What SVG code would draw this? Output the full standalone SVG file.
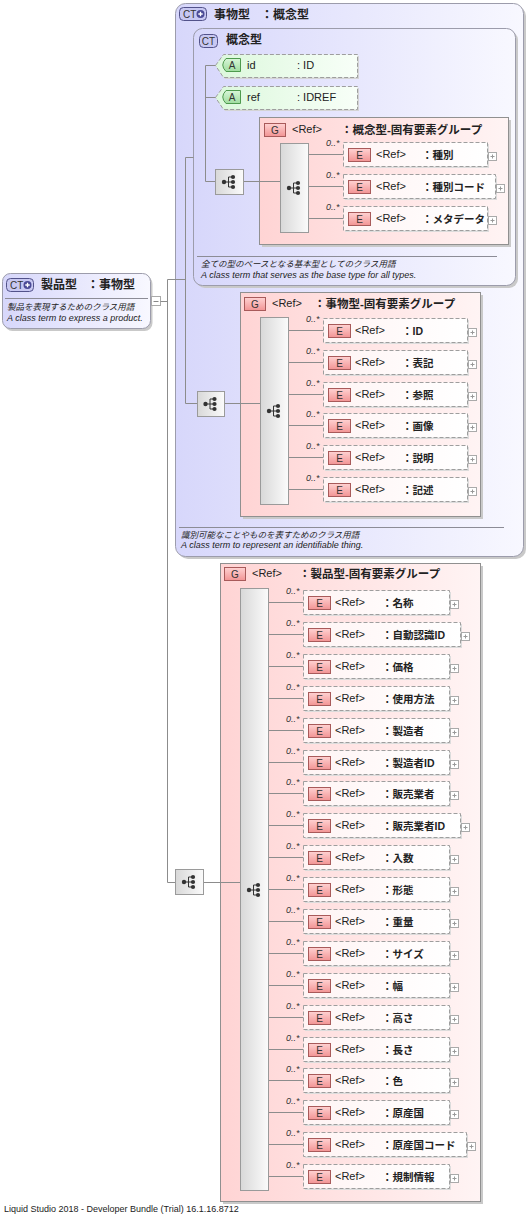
<svg xmlns="http://www.w3.org/2000/svg" xmlns:xlink="http://www.w3.org/1999/xlink" width="528" height="1216" viewBox="0 0 528 1216">
<defs>
<style>
.t{font-family:"Liberation Sans","Noto Sans CJK JP",sans-serif}
.ttl{font-size:12px;font-weight:bold;fill:#222}
.hd{font-size:11.5px;font-weight:bold;fill:#222}
.ref{font-size:11px;fill:#222}
.nm{font-size:10.5px;font-weight:bold;fill:#222}
.occ{font-size:9px;font-style:italic;fill:#333}
.dsc{font-size:9px;font-style:italic;fill:#222}
.dj{font-size:8.5px}
.ln{stroke:#8c8c8c;stroke-width:1;fill:none}
.sep{stroke:#8c8c96;stroke-width:1}
.ctbox{fill:url(#gCT);stroke:#9c9cab;stroke-width:1}
.shd{fill:#c9c9c9}
.grp{fill:url(#gGrp);stroke:#909090;stroke-width:1}
.bar{fill:url(#gBar);stroke:#9a9a9a;stroke-width:1}
.ebox{fill:url(#gEl);stroke:#9e9e9e;stroke-width:1;stroke-dasharray:4 2}
.esh{fill:#dcdcdc}
.eb{fill:url(#gEB);stroke:#a85a5a;stroke-width:1}
.bt{font-size:10px;fill:#333;text-anchor:middle}
.ctb{fill:#c8c8f2;stroke:#52528a;stroke-width:1}
.abox{fill:url(#gAt);stroke:#9e9e9e;stroke-width:1;stroke-dasharray:4 2}
.ab{fill:url(#gAB);stroke:#4e9a4e;stroke-width:1}
.at{font-size:11px;fill:#222}
</style>
<linearGradient id="gCT" x1="0" y1="0" x2="1" y2="0"><stop offset="0" stop-color="#d7d7fb"/><stop offset="1" stop-color="#f8f8ff"/></linearGradient>
<linearGradient id="gGrp" x1="0" y1="0" x2="1" y2="0"><stop offset="0" stop-color="#ffd4d4"/><stop offset="1" stop-color="#fff4f4"/></linearGradient>
<linearGradient id="gBar" x1="0" y1="0" x2="1" y2="0"><stop offset="0" stop-color="#d8d8d8"/><stop offset="1" stop-color="#fbfbfb"/></linearGradient>
<linearGradient id="gEl" x1="0" y1="0" x2="1" y2="0"><stop offset="0" stop-color="#fff4f4"/><stop offset="1" stop-color="#ffffff"/></linearGradient>
<linearGradient id="gAt" x1="0" y1="0" x2="1" y2="0"><stop offset="0" stop-color="#dcf8dc"/><stop offset="1" stop-color="#f8fff8"/></linearGradient>
<linearGradient id="gEB" x1="0" y1="0" x2="0" y2="1"><stop offset="0" stop-color="#ffd2d2"/><stop offset="1" stop-color="#f29494"/></linearGradient>
<linearGradient id="gAB" x1="0" y1="0" x2="0" y2="1"><stop offset="0" stop-color="#d8f6d8"/><stop offset="1" stop-color="#9fdc9f"/></linearGradient>
<g id="sq">
<circle cx="-5.5" cy="0" r="2.2" fill="#333"/>
<path d="M-5.5 0H-1M-1 -5V5M-1 -5H3M-1 0H3M-1 5H3" stroke="#333" stroke-width="1" fill="none"/>
<circle cx="3.5" cy="-5" r="2.1" fill="#333"/>
<circle cx="3.5" cy="0" r="2.1" fill="#333"/>
<circle cx="3.5" cy="5" r="2.1" fill="#333"/>
</g>
<g id="pl"><rect x="0.5" y="0.5" width="8" height="8" fill="#fff" stroke="#aaa"/><path d="M2.5 4.5h4M4.5 2.5v4" stroke="#999"/></g>
<g id="ctplus"><rect class="ctb" x="0.5" y="0.5" width="27" height="13" rx="4"/><text class="t" x="4" y="10.5" font-size="10" fill="#333">CT</text><circle cx="21.5" cy="7" r="4" fill="#4a4a96"/><path d="M19.3 7h4.4M21.5 4.8v4.4" stroke="#fff" stroke-width="1.3"/></g>
</defs>

<rect width="528" height="1216" fill="#ffffff"/>

<!-- outer CT: 事物型 -->
<g id="n-jibutsu">
<rect class="shd" x="178" y="6" width="348" height="553" rx="10"/>
<rect class="ctbox" x="175.5" y="3.5" width="348" height="553" rx="10"/>
<use href="#ctplus" x="179" y="7"/>
<text class="t ttl" x="214" y="18.5">事物型</text>
<text class="t ttl" x="261" y="18.5">：概念型</text>
<line class="sep" x1="179" y1="527.5" x2="504" y2="527.5"/>
<text class="t dsc dj" x="181" y="538">識別可能なことやものを表すためのクラス用語</text>
<text class="t dsc" x="181" y="547.5">A class term to represent an identifiable thing.</text>
</g>

<!-- inner CT: 概念型 -->
<g id="n-gainen">
<rect class="shd" x="196" y="31" width="322" height="257" rx="9"/>
<rect class="ctbox" x="193.5" y="28.5" width="322" height="257" rx="9"/>
<rect class="ctb" x="199.5" y="34.5" width="18" height="13" rx="4"/>
<text class="t" x="208.5" y="45" font-size="10" fill="#333" text-anchor="middle">CT</text>
<text class="t ttl" x="226" y="44">概念型</text>
<line class="sep" x1="197" y1="256.5" x2="497" y2="256.5"/>
<text class="t dsc dj" x="201" y="267">全ての型のベースとなる基本型としてのクラス用語</text>
<text class="t dsc" x="201" y="277.5">A class term that serves as the base type for all types.</text>
</g>

<!-- group boxes -->
<g id="n-grp1">
<rect class="shd" x="262" y="120" width="249" height="127"/>
<rect class="grp" x="259.5" y="117.5" width="249" height="127"/>
<rect class="eb" x="264.5" y="123.5" width="21" height="13"/>
<text class="t bt" x="275" y="134">G</text>
<text class="t ref" x="292" y="133">&lt;Ref&gt;</text>
<text class="t hd" x="341" y="133.5">：概念型-固有要素グループ</text>
</g>
<g id="n-grp2">
<rect class="shd" x="243" y="295" width="240" height="224"/>
<rect class="grp" x="240.5" y="292.5" width="240" height="224"/>
<rect class="eb" x="244.5" y="297.5" width="21" height="13"/>
<text class="t bt" x="255" y="308">G</text>
<text class="t ref" x="272" y="307">&lt;Ref&gt;</text>
<text class="t hd" x="314" y="307.5">：事物型-固有要素グループ</text>
</g>
<g id="n-grp3">
<rect class="shd" x="223" y="566" width="260" height="638"/>
<rect class="grp" x="220.5" y="563.5" width="260" height="638"/>
<rect class="eb" x="224.5" y="567.5" width="21" height="13"/>
<text class="t bt" x="235" y="578">G</text>
<text class="t ref" x="252" y="577">&lt;Ref&gt;</text>
<text class="t hd" x="299" y="577.5">：製品型-固有要素グループ</text>
</g>

<!-- root -->
<g id="n-root">
<rect class="shd" x="4.5" y="276" width="148" height="55" rx="8"/>
<rect class="ctbox" x="2.5" y="273.5" width="148" height="55" rx="8"/>
<use href="#ctplus" x="6" y="278"/>
<text class="t ttl" x="41" y="289">製品型</text>
<text class="t ttl" x="87" y="289">：事物型</text>
<line class="sep" x1="5" y1="298.5" x2="148" y2="298.5"/>
<text class="t dsc dj" x="7" y="310">製品を表現するためのクラス用語</text>
<text class="t dsc" x="7" y="320.5">A class term to express a product.</text>
<rect x="151.5" y="296.5" width="9" height="9" fill="#fff" stroke="#aaa"/>
<path d="M153.5 301.5h5" stroke="#888"/>
</g>

<!-- connectors -->
<g id="connectors" class="ln">
<path d="M160.5 301.5H167.5"/>
<path d="M167.5 279.5V882.5"/>
<path d="M167.5 279.5H185.5"/>
<path d="M185.5 157.5H193.5"/>
<path d="M185.5 157.5V403.5H197.5"/>
<path d="M224.5 403.5H260.5"/>
<path d="M167.5 882.5H175.5"/>
<path d="M203.5 882.5H240.5"/>
<path d="M205.5 65.5V181.5"/>
<path d="M205.5 65.5H216"/>
<path d="M205.5 97.5H216"/>
<path d="M205.5 181.5H215.5"/>
<path d="M243.5 181.5H280.5"/>
<path d="M308.5 154.5H343.5M308.5 186.5H343.5M308.5 218.5H343.5"/>
<path d="M288.5 330.5H323.5M288.5 362.5H323.5M288.5 394.5H323.5M288.5 425.5H323.5M288.5 457.5H323.5M288.5 489.5H323.5"/>
<path d="M268.5 602.5H303.5M268.5 634.5H303.5M268.5 666.5H303.5M268.5 698.5H303.5M268.5 730.5H303.5M268.5 762.5H303.5M268.5 793.5H303.5M268.5 825.5H303.5M268.5 857.5H303.5M268.5 889.5H303.5M268.5 921.5H303.5M268.5 953.5H303.5M268.5 985.5H303.5M268.5 1017.5H303.5M268.5 1049.5H303.5M268.5 1080.5H303.5M268.5 1112.5H303.5M268.5 1144.5H303.5M268.5 1176.5H303.5"/>
</g>

<!-- sequence compositors -->
<g id="n-seq-root">
<rect class="bar" x="175.5" y="869.5" width="28" height="25"/>
<use href="#sq" x="189.5" y="882"/>
</g>
<g id="n-seq-jibutsu">
<rect class="bar" x="197.5" y="391.5" width="27" height="25"/>
<use href="#sq" x="211" y="404"/>
</g>
<g id="n-seq-gainen">
<rect class="bar" x="215.5" y="169.5" width="28" height="25"/>
<use href="#sq" x="229.5" y="182"/>
</g>
<g id="n-seq-g1">
<rect class="bar" x="280.5" y="143.5" width="28" height="89"/>
<use href="#sq" x="294.5" y="188"/>
</g>
<g id="n-seq-g2">
<rect class="bar" x="260.5" y="317.5" width="28" height="187"/>
<use href="#sq" x="274.5" y="411"/>
</g>
<g id="n-seq-g3">
<rect class="bar" x="240.5" y="588.5" width="28" height="602"/>
<use href="#sq" x="254.5" y="890"/>
</g>

<!-- attributes -->
<g id="n-attr-id">
<path d="M217 67 L225 56 H359 V79 H225 Z" fill="#d4d4d4"/>
<path class="abox" d="M215.5 65.5 L223.5 54.5 H357.5 V77.5 H223.5 Z"/>
<path class="ab" d="M226 58.5 H240.5 V71.5 H226 Q219.5 65 226 58.5 Z"/>
<text class="t bt" x="232" y="69">A</text>
<text class="t at" x="247" y="68.5">id</text>
<text class="t at" x="297" y="68.5">: ID</text>
</g>
<g id="n-attr-ref">
<path d="M217 99 L225 88 H359 V111 H225 Z" fill="#d4d4d4"/>
<path class="abox" d="M215.5 97.5 L223.5 86.5 H357.5 V109.5 H223.5 Z"/>
<path class="ab" d="M226 90.5 H240.5 V103.5 H226 Q219.5 97 226 90.5 Z"/>
<text class="t bt" x="232" y="101">A</text>
<text class="t at" x="247" y="100.5">ref</text>
<text class="t at" x="297" y="100.5">: IDREF</text>
</g>

<!-- group 1 elements -->
<g id="n-e-shubetsu" transform="translate(343,142)">
<rect class="esh" x="2" y="2" width="144" height="24"/><rect class="ebox" x="0.5" y="0.5" width="144" height="24"/>
<rect class="eb" x="5.5" y="6.5" width="22" height="13"/><text class="t bt" x="16.5" y="17">E</text>
<text class="t ref" x="33" y="16">&lt;Ref&gt;</text><text class="t nm" x="79" y="16.5">：種別</text>
<use href="#pl" x="145" y="10"/><text class="t occ" x="-17" y="4">0..*</text>
</g>
<g id="n-e-shubetsucode" transform="translate(343,174)">
<rect class="esh" x="2" y="2" width="152" height="24"/><rect class="ebox" x="0.5" y="0.5" width="152" height="24"/>
<rect class="eb" x="5.5" y="6.5" width="22" height="13"/><text class="t bt" x="16.5" y="17">E</text>
<text class="t ref" x="33" y="16">&lt;Ref&gt;</text><text class="t nm" x="79" y="16.5">：種別コード</text>
<use href="#pl" x="153" y="10"/><text class="t occ" x="-17" y="4">0..*</text>
</g>
<g id="n-e-metadata" transform="translate(343,206)">
<rect class="esh" x="2" y="2" width="144" height="24"/><rect class="ebox" x="0.5" y="0.5" width="144" height="24"/>
<rect class="eb" x="5.5" y="6.5" width="22" height="13"/><text class="t bt" x="16.5" y="17">E</text>
<text class="t ref" x="33" y="16">&lt;Ref&gt;</text><text class="t nm" x="79" y="16.5">：メタデータ</text>
<use href="#pl" x="145" y="10"/><text class="t occ" x="-17" y="4">0..*</text>
</g>

<!-- group 2 elements -->
<g id="n-e-id" transform="translate(323,318)">
<rect class="esh" x="2" y="2" width="144" height="24"/><rect class="ebox" x="0.5" y="0.5" width="144" height="24"/>
<rect class="eb" x="5.5" y="6.5" width="22" height="13"/><text class="t bt" x="16.5" y="17">E</text>
<text class="t ref" x="32" y="16">&lt;Ref&gt;</text><text class="t nm" x="79" y="16.5">：ID</text>
<use href="#pl" x="145" y="10"/><text class="t occ" x="-17" y="4">0..*</text>
</g>
<g id="n-e-hyoki" transform="translate(323,350)">
<rect class="esh" x="2" y="2" width="144" height="24"/><rect class="ebox" x="0.5" y="0.5" width="144" height="24"/>
<rect class="eb" x="5.5" y="6.5" width="22" height="13"/><text class="t bt" x="16.5" y="17">E</text>
<text class="t ref" x="32" y="16">&lt;Ref&gt;</text><text class="t nm" x="79" y="16.5">：表記</text>
<use href="#pl" x="145" y="10"/><text class="t occ" x="-17" y="4">0..*</text>
</g>
<g id="n-e-sansho" transform="translate(323,382)">
<rect class="esh" x="2" y="2" width="144" height="24"/><rect class="ebox" x="0.5" y="0.5" width="144" height="24"/>
<rect class="eb" x="5.5" y="6.5" width="22" height="13"/><text class="t bt" x="16.5" y="17">E</text>
<text class="t ref" x="32" y="16">&lt;Ref&gt;</text><text class="t nm" x="79" y="16.5">：参照</text>
<use href="#pl" x="145" y="10"/><text class="t occ" x="-17" y="4">0..*</text>
</g>
<g id="n-e-gazo" transform="translate(323,413)">
<rect class="esh" x="2" y="2" width="144" height="24"/><rect class="ebox" x="0.5" y="0.5" width="144" height="24"/>
<rect class="eb" x="5.5" y="6.5" width="22" height="13"/><text class="t bt" x="16.5" y="17">E</text>
<text class="t ref" x="32" y="16">&lt;Ref&gt;</text><text class="t nm" x="79" y="16.5">：画像</text>
<use href="#pl" x="145" y="10"/><text class="t occ" x="-17" y="4">0..*</text>
</g>
<g id="n-e-setsumei" transform="translate(323,445)">
<rect class="esh" x="2" y="2" width="144" height="24"/><rect class="ebox" x="0.5" y="0.5" width="144" height="24"/>
<rect class="eb" x="5.5" y="6.5" width="22" height="13"/><text class="t bt" x="16.5" y="17">E</text>
<text class="t ref" x="32" y="16">&lt;Ref&gt;</text><text class="t nm" x="79" y="16.5">：説明</text>
<use href="#pl" x="145" y="10"/><text class="t occ" x="-17" y="4">0..*</text>
</g>
<g id="n-e-kijutsu" transform="translate(323,477)">
<rect class="esh" x="2" y="2" width="144" height="24"/><rect class="ebox" x="0.5" y="0.5" width="144" height="24"/>
<rect class="eb" x="5.5" y="6.5" width="22" height="13"/><text class="t bt" x="16.5" y="17">E</text>
<text class="t ref" x="32" y="16">&lt;Ref&gt;</text><text class="t nm" x="79" y="16.5">：記述</text>
<use href="#pl" x="145" y="10"/><text class="t occ" x="-17" y="4">0..*</text>
</g>

<!-- group 3 elements -->
<g id="n-e-meisho" transform="translate(303,590)">
<rect class="esh" x="2" y="2" width="146" height="24"/><rect class="ebox" x="0.5" y="0.5" width="146" height="24"/>
<rect class="eb" x="5.5" y="6.5" width="22" height="13"/><text class="t bt" x="16.5" y="17">E</text>
<text class="t ref" x="32" y="16">&lt;Ref&gt;</text><text class="t nm" x="79" y="16.5">：名称</text>
<use href="#pl" x="147" y="10"/><text class="t occ" x="-17" y="4">0..*</text>
</g>
<g id="n-e-jidoninshikiid" transform="translate(303,622)">
<rect class="esh" x="2" y="2" width="157" height="24"/><rect class="ebox" x="0.5" y="0.5" width="157" height="24"/>
<rect class="eb" x="5.5" y="6.5" width="22" height="13"/><text class="t bt" x="16.5" y="17">E</text>
<text class="t ref" x="32" y="16">&lt;Ref&gt;</text><text class="t nm" x="79" y="16.5">：自動認識ID</text>
<use href="#pl" x="158" y="10"/><text class="t occ" x="-17" y="4">0..*</text>
</g>
<g id="n-e-kakaku" transform="translate(303,654)">
<rect class="esh" x="2" y="2" width="146" height="24"/><rect class="ebox" x="0.5" y="0.5" width="146" height="24"/>
<rect class="eb" x="5.5" y="6.5" width="22" height="13"/><text class="t bt" x="16.5" y="17">E</text>
<text class="t ref" x="32" y="16">&lt;Ref&gt;</text><text class="t nm" x="79" y="16.5">：価格</text>
<use href="#pl" x="147" y="10"/><text class="t occ" x="-17" y="4">0..*</text>
</g>
<g id="n-e-shiyohoho" transform="translate(303,686)">
<rect class="esh" x="2" y="2" width="146" height="24"/><rect class="ebox" x="0.5" y="0.5" width="146" height="24"/>
<rect class="eb" x="5.5" y="6.5" width="22" height="13"/><text class="t bt" x="16.5" y="17">E</text>
<text class="t ref" x="32" y="16">&lt;Ref&gt;</text><text class="t nm" x="79" y="16.5">：使用方法</text>
<use href="#pl" x="147" y="10"/><text class="t occ" x="-17" y="4">0..*</text>
</g>
<g id="n-e-seizosha" transform="translate(303,718)">
<rect class="esh" x="2" y="2" width="146" height="24"/><rect class="ebox" x="0.5" y="0.5" width="146" height="24"/>
<rect class="eb" x="5.5" y="6.5" width="22" height="13"/><text class="t bt" x="16.5" y="17">E</text>
<text class="t ref" x="32" y="16">&lt;Ref&gt;</text><text class="t nm" x="79" y="16.5">：製造者</text>
<use href="#pl" x="147" y="10"/><text class="t occ" x="-17" y="4">0..*</text>
</g>
<g id="n-e-seizoshaid" transform="translate(303,750)">
<rect class="esh" x="2" y="2" width="146" height="24"/><rect class="ebox" x="0.5" y="0.5" width="146" height="24"/>
<rect class="eb" x="5.5" y="6.5" width="22" height="13"/><text class="t bt" x="16.5" y="17">E</text>
<text class="t ref" x="32" y="16">&lt;Ref&gt;</text><text class="t nm" x="79" y="16.5">：製造者ID</text>
<use href="#pl" x="147" y="10"/><text class="t occ" x="-17" y="4">0..*</text>
</g>
<g id="n-e-hanbaigyosha" transform="translate(303,781)">
<rect class="esh" x="2" y="2" width="146" height="24"/><rect class="ebox" x="0.5" y="0.5" width="146" height="24"/>
<rect class="eb" x="5.5" y="6.5" width="22" height="13"/><text class="t bt" x="16.5" y="17">E</text>
<text class="t ref" x="32" y="16">&lt;Ref&gt;</text><text class="t nm" x="79" y="16.5">：販売業者</text>
<use href="#pl" x="147" y="10"/><text class="t occ" x="-17" y="4">0..*</text>
</g>
<g id="n-e-hanbaigyoshaid" transform="translate(303,813)">
<rect class="esh" x="2" y="2" width="157" height="24"/><rect class="ebox" x="0.5" y="0.5" width="157" height="24"/>
<rect class="eb" x="5.5" y="6.5" width="22" height="13"/><text class="t bt" x="16.5" y="17">E</text>
<text class="t ref" x="32" y="16">&lt;Ref&gt;</text><text class="t nm" x="79" y="16.5">：販売業者ID</text>
<use href="#pl" x="158" y="10"/><text class="t occ" x="-17" y="4">0..*</text>
</g>
<g id="n-e-irisu" transform="translate(303,845)">
<rect class="esh" x="2" y="2" width="146" height="24"/><rect class="ebox" x="0.5" y="0.5" width="146" height="24"/>
<rect class="eb" x="5.5" y="6.5" width="22" height="13"/><text class="t bt" x="16.5" y="17">E</text>
<text class="t ref" x="32" y="16">&lt;Ref&gt;</text><text class="t nm" x="79" y="16.5">：入数</text>
<use href="#pl" x="147" y="10"/><text class="t occ" x="-17" y="4">0..*</text>
</g>
<g id="n-e-keitai" transform="translate(303,877)">
<rect class="esh" x="2" y="2" width="146" height="24"/><rect class="ebox" x="0.5" y="0.5" width="146" height="24"/>
<rect class="eb" x="5.5" y="6.5" width="22" height="13"/><text class="t bt" x="16.5" y="17">E</text>
<text class="t ref" x="32" y="16">&lt;Ref&gt;</text><text class="t nm" x="79" y="16.5">：形態</text>
<use href="#pl" x="147" y="10"/><text class="t occ" x="-17" y="4">0..*</text>
</g>
<g id="n-e-juryo" transform="translate(303,909)">
<rect class="esh" x="2" y="2" width="146" height="24"/><rect class="ebox" x="0.5" y="0.5" width="146" height="24"/>
<rect class="eb" x="5.5" y="6.5" width="22" height="13"/><text class="t bt" x="16.5" y="17">E</text>
<text class="t ref" x="32" y="16">&lt;Ref&gt;</text><text class="t nm" x="79" y="16.5">：重量</text>
<use href="#pl" x="147" y="10"/><text class="t occ" x="-17" y="4">0..*</text>
</g>
<g id="n-e-size" transform="translate(303,941)">
<rect class="esh" x="2" y="2" width="146" height="24"/><rect class="ebox" x="0.5" y="0.5" width="146" height="24"/>
<rect class="eb" x="5.5" y="6.5" width="22" height="13"/><text class="t bt" x="16.5" y="17">E</text>
<text class="t ref" x="32" y="16">&lt;Ref&gt;</text><text class="t nm" x="79" y="16.5">：サイズ</text>
<use href="#pl" x="147" y="10"/><text class="t occ" x="-17" y="4">0..*</text>
</g>
<g id="n-e-haba" transform="translate(303,973)">
<rect class="esh" x="2" y="2" width="146" height="24"/><rect class="ebox" x="0.5" y="0.5" width="146" height="24"/>
<rect class="eb" x="5.5" y="6.5" width="22" height="13"/><text class="t bt" x="16.5" y="17">E</text>
<text class="t ref" x="32" y="16">&lt;Ref&gt;</text><text class="t nm" x="79" y="16.5">：幅</text>
<use href="#pl" x="147" y="10"/><text class="t occ" x="-17" y="4">0..*</text>
</g>
<g id="n-e-takasa" transform="translate(303,1005)">
<rect class="esh" x="2" y="2" width="146" height="24"/><rect class="ebox" x="0.5" y="0.5" width="146" height="24"/>
<rect class="eb" x="5.5" y="6.5" width="22" height="13"/><text class="t bt" x="16.5" y="17">E</text>
<text class="t ref" x="32" y="16">&lt;Ref&gt;</text><text class="t nm" x="79" y="16.5">：高さ</text>
<use href="#pl" x="147" y="10"/><text class="t occ" x="-17" y="4">0..*</text>
</g>
<g id="n-e-nagasa" transform="translate(303,1037)">
<rect class="esh" x="2" y="2" width="146" height="24"/><rect class="ebox" x="0.5" y="0.5" width="146" height="24"/>
<rect class="eb" x="5.5" y="6.5" width="22" height="13"/><text class="t bt" x="16.5" y="17">E</text>
<text class="t ref" x="32" y="16">&lt;Ref&gt;</text><text class="t nm" x="79" y="16.5">：長さ</text>
<use href="#pl" x="147" y="10"/><text class="t occ" x="-17" y="4">0..*</text>
</g>
<g id="n-e-iro" transform="translate(303,1068)">
<rect class="esh" x="2" y="2" width="146" height="24"/><rect class="ebox" x="0.5" y="0.5" width="146" height="24"/>
<rect class="eb" x="5.5" y="6.5" width="22" height="13"/><text class="t bt" x="16.5" y="17">E</text>
<text class="t ref" x="32" y="16">&lt;Ref&gt;</text><text class="t nm" x="79" y="16.5">：色</text>
<use href="#pl" x="147" y="10"/><text class="t occ" x="-17" y="4">0..*</text>
</g>
<g id="n-e-gensankoku" transform="translate(303,1100)">
<rect class="esh" x="2" y="2" width="146" height="24"/><rect class="ebox" x="0.5" y="0.5" width="146" height="24"/>
<rect class="eb" x="5.5" y="6.5" width="22" height="13"/><text class="t bt" x="16.5" y="17">E</text>
<text class="t ref" x="32" y="16">&lt;Ref&gt;</text><text class="t nm" x="79" y="16.5">：原産国</text>
<use href="#pl" x="147" y="10"/><text class="t occ" x="-17" y="4">0..*</text>
</g>
<g id="n-e-gensankokucode" transform="translate(303,1132)">
<rect class="esh" x="2" y="2" width="163" height="24"/><rect class="ebox" x="0.5" y="0.5" width="163" height="24"/>
<rect class="eb" x="5.5" y="6.5" width="22" height="13"/><text class="t bt" x="16.5" y="17">E</text>
<text class="t ref" x="32" y="16">&lt;Ref&gt;</text><text class="t nm" x="79" y="16.5">：原産国コード</text>
<use href="#pl" x="164" y="10"/><text class="t occ" x="-17" y="4">0..*</text>
</g>
<g id="n-e-kiseijoho" transform="translate(303,1164)">
<rect class="esh" x="2" y="2" width="146" height="24"/><rect class="ebox" x="0.5" y="0.5" width="146" height="24"/>
<rect class="eb" x="5.5" y="6.5" width="22" height="13"/><text class="t bt" x="16.5" y="17">E</text>
<text class="t ref" x="32" y="16">&lt;Ref&gt;</text><text class="t nm" x="79" y="16.5">：規制情報</text>
<use href="#pl" x="147" y="10"/><text class="t occ" x="-17" y="4">0..*</text>
</g>

<text class="t" x="4" y="1212" font-size="9" fill="#222">Liquid Studio 2018 - Developer Bundle (Trial) 16.1.16.8712</text>
</svg>
